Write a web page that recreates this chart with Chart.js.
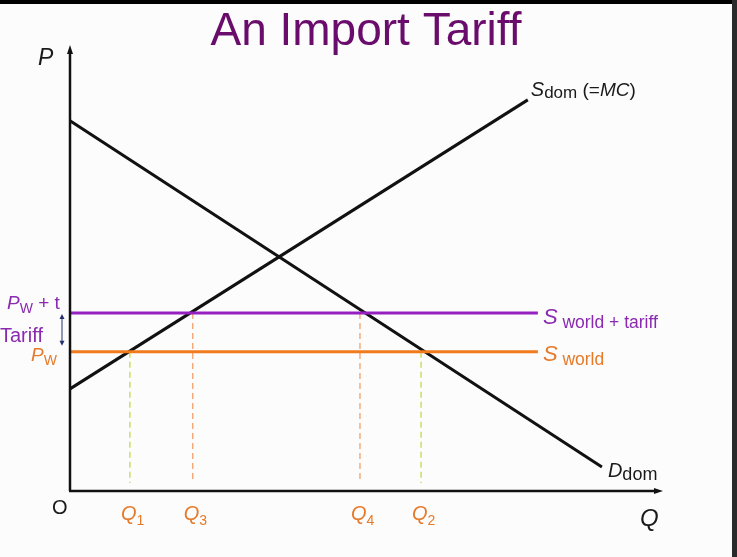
<!DOCTYPE html>
<html>
<head>
<meta charset="utf-8">
<script src="https://cdn.jsdelivr.net/npm/chart.js@4/dist/chart.umd.min.js"></script>
<style>
  html, body { margin: 0; padding: 0; background: #000; }
  #wrap { width: 737px; height: 557px; }
</style>
</head>
<body>
<div id="wrap"><canvas id="grafic" width="737" height="557"></canvas></div>
<script>
// Dades (valors llegits del grafic, escala 0-100 a cada eix)
const qRange = [0, 100];
const pRange = [0, 100];
const demandQ = [0, 89.7];
const demandP = [83, 5.4];
const supplyQ = [0, 77.2];
const supplyP = [22.9, 87.7];
const worldPrice = 31.2;
const tariffPrice = 39.9;
const priceLineEnd = 78.9;
const qMarks = [10.1, 20.7, 48.9, 59.2];
const qMarkPrice = [31.2, 39.9, 39.9, 31.2];
const qNames = ['1', '3', '4', '2'];
const dashBottom = 1.8;

// Colors
const purple = '#9520bf';
const orange = '#f07a1c';
const labelOrange = '#e57a2a';
const labelPurple = '#8a2ab0';
const green = '#c4d94a';
const dashOrange = '#f2a06a';

function pts(xs, ys) {
  return xs.map((x, i) => ({ x: x, y: ys[i] }));
}

let datasets = [];

// Linies de preu mundial
datasets.push({ data: pts([0, priceLineEnd], [tariffPrice, tariffPrice]), borderColor: purple, borderWidth: 3 });
datasets.push({ data: pts([0, priceLineEnd], [worldPrice, worldPrice]), borderColor: orange, borderWidth: 3 });

// Linies discontinues Q
qMarks.forEach((q, i) => {
  datasets.push({
    data: pts([q, q], [qMarkPrice[i], dashBottom]),
    borderColor: qMarkPrice[i] == worldPrice ? green : dashOrange,
    borderWidth: 1.3,
    borderDash: [6, 4]
  });
});

// Oferta i demanda
datasets.push({ data: pts(demandQ, demandP), borderColor: '#111', borderWidth: 3 });
datasets.push({ data: pts(supplyQ, supplyP), borderColor: '#111', borderWidth: 3 });

datasets.forEach(d => {
  d.showLine = true;
  d.pointRadius = 0;
  d.clip = false;
  d.fill = false;
});

function subText(ctx, x, y, parts) {
  // parts: [text, font, color, dy]
  parts.forEach(p => {
    ctx.font = p[1];
    ctx.fillStyle = p[2];
    ctx.fillText(p[0], x, y + (p[3] || 0));
    x += ctx.measureText(p[0]).width;
  });
}

const decor = {
  id: 'decor',
  beforeDraw(chart) {
    const ctx = chart.ctx;
    ctx.save();
    ctx.fillStyle = '#fcfcfc';
    ctx.fillRect(0, 0, 737, 557);
    ctx.fillStyle = '#000';
    ctx.fillRect(0, 0, 737, 4);
    ctx.fillStyle = '#2a2a2a';
    ctx.fillRect(732, 0, 5, 557);
    ctx.restore();
  },
  afterDatasetsDraw(chart) {
    const ctx = chart.ctx;
    const xs = chart.scales.x, ys = chart.scales.y;
    const x0 = xs.getPixelForValue(qRange[0]);
    const x1 = xs.getPixelForValue(qRange[1]);
    const y0 = ys.getPixelForValue(pRange[0]);
    const y1 = ys.getPixelForValue(pRange[1]);
    ctx.save();

    // Eixos
    ctx.strokeStyle = '#111';
    ctx.fillStyle = '#111';
    ctx.lineWidth = 2.5;
    ctx.beginPath();
    ctx.moveTo(x0, y0);
    ctx.lineTo(x0, y1 + 6);
    ctx.stroke();
    ctx.beginPath();
    ctx.moveTo(x0 - 1, y0);
    ctx.lineTo(x1 - 6, y0);
    ctx.stroke();
    ctx.beginPath();
    ctx.moveTo(x0, y1);
    ctx.lineTo(x0 - 3, y1 + 9);
    ctx.lineTo(x0 + 3, y1 + 9);
    ctx.fill();
    ctx.beginPath();
    ctx.moveTo(x1, y0);
    ctx.lineTo(x1 - 9, y0 - 3);
    ctx.lineTo(x1 - 9, y0 + 3);
    ctx.fill();

    // Fletxa doble tarifa
    const ax = x0 - 8;
    const ya = ys.getPixelForValue(tariffPrice) + 1;
    const yb = ys.getPixelForValue(worldPrice) - 6;
    ctx.strokeStyle = '#24306e';
    ctx.fillStyle = '#24306e';
    ctx.lineWidth = 1;
    ctx.beginPath();
    ctx.moveTo(ax, ya + 3);
    ctx.lineTo(ax, yb - 3);
    ctx.stroke();
    ctx.beginPath();
    ctx.moveTo(ax, ya); ctx.lineTo(ax - 2.5, ya + 5); ctx.lineTo(ax + 2.5, ya + 5); ctx.fill();
    ctx.beginPath();
    ctx.moveTo(ax, yb); ctx.lineTo(ax - 2.5, yb - 5); ctx.lineTo(ax + 2.5, yb - 5); ctx.fill();

    // Titol
    ctx.textAlign = 'center';
    ctx.textBaseline = 'alphabetic';
    ctx.fillStyle = '#6a0c6c';
    ctx.font = '46px "Liberation Sans", Arial, sans-serif';
    ctx.fillText('An Import Tariff', 366, 45);

    ctx.textAlign = 'left';
    const ff = '"Liberation Sans", Arial, sans-serif';
    const dark = '#1a1a1a';

    // Eixos: etiquetes
    subText(ctx, 38, 65, [['P', 'italic 23px ' + ff, dark]]);
    subText(ctx, 52, 514, [['O', '20px ' + ff, dark]]);
    subText(ctx, 640, 526, [['Q', 'italic 24px ' + ff, dark]]);

    // Etiquetes Q
    qMarks.forEach((q, i) => {
      const px = xs.getPixelForValue(q);
      subText(ctx, px - 9, 520, [
        ['Q', 'italic 20px ' + ff, labelOrange],
        [qNames[i], '14px ' + ff, labelOrange, 5]
      ]);
    });

    // Corbes
    const sx = xs.getPixelForValue(supplyQ[1]);
    const sy = ys.getPixelForValue(supplyP[1]);
    subText(ctx, sx + 3, sy - 4, [
      ['S', 'italic 20px ' + ff, dark],
      ['dom', '17px ' + ff, dark, 2],
      [' (=', '19px ' + ff, dark],
      ['MC', 'italic 19px ' + ff, dark],
      [')', '19px ' + ff, dark]
    ]);
    const dx = xs.getPixelForValue(demandQ[1]);
    const dy = ys.getPixelForValue(demandP[1]);
    subText(ctx, dx + 6, dy + 10, [
      ['D', 'italic 20px ' + ff, dark],
      ['dom', '18px ' + ff, dark, 3]
    ]);

    const ex = xs.getPixelForValue(priceLineEnd);
    subText(ctx, ex + 5, ys.getPixelForValue(tariffPrice) + 11, [
      ['S', 'italic 22px ' + ff, labelPurple],
      [' world + tariff', '17.5px ' + ff, labelPurple, 4]
    ]);
    subText(ctx, ex + 5, ys.getPixelForValue(worldPrice) + 9, [
      ['S', 'italic 22px ' + ff, labelOrange],
      [' world', '17.5px ' + ff, labelOrange, 4]
    ]);

    // Preus a l'eix
    subText(ctx, 7, ys.getPixelForValue(tariffPrice) - 4, [
      ['P', 'italic 19px ' + ff, labelPurple],
      ['W', '14px ' + ff, labelPurple, 4],
      [' + t', '19px ' + ff, labelPurple]
    ]);
    subText(ctx, 0, ys.getPixelForValue(tariffPrice) + 29, [['Tariff', '20px ' + ff, labelPurple]]);
    subText(ctx, 31, ys.getPixelForValue(worldPrice) + 9, [
      ['P', 'italic 19px ' + ff, labelOrange],
      ['W', '14px ' + ff, labelOrange, 4]
    ]);

    ctx.restore();
  }
};

const ctx = document.getElementById('grafic');
const chart = new Chart(ctx, {
  type: 'scatter',
  data: { datasets: datasets },
  options: {
    responsive: false,
    animation: false,
    events: [],
    layout: { padding: { left: 70, right: 74, top: 45, bottom: 66 } },
    plugins: { legend: { display: false }, tooltip: { enabled: false } },
    scales: {
      x: { type: 'linear', min: qRange[0], max: qRange[1], display: false },
      y: { type: 'linear', min: pRange[0], max: pRange[1], display: false }
    }
  },
  plugins: [decor]
});
</script>
</body>
</html>
